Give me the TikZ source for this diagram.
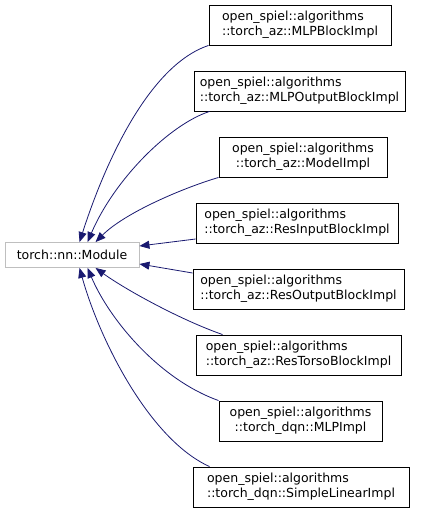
\documentclass[tikz,border=0pt]{standalone}
\usepackage{fontspec}
\setmainfont{DejaVu Sans}
\usetikzlibrary{arrows.meta}
\definecolor{edgeblue}{RGB}{25,25,112}

\begin{document}
\begin{tikzpicture}[
    x=1pt, y=-1pt,
    cls/.style={draw=black, line width=0.9pt, fill=white, minimum width=#1,
                minimum height=40pt, inner xsep=4pt, align=left,
                font=\fontsize{12.5}{14.8}\selectfont},
    base/.style={draw=black!25, line width=0.9pt, fill=white, minimum width=134pt,
                 minimum height=25pt, font=\fontsize{12.5}{14.8}\selectfont},
    inherit/.style={draw=edgeblue, line width=0.8pt,
                    {Triangle[length=10pt, width=8pt, fill=edgeblue]}-}
  ]
  \useasboundingbox (0,0) rectangle (423,509);

  \node[base] (module) at (72,255) {torch::nn::Module};

  \node[cls=182pt] (mlpblock) at (300,25)
    {open\_spiel::algorithms\\::torch\_az::MLPBlockImpl};
  \node[cls=211pt] (mlpoutput) at (299.5,91)
    {open\_spiel::algorithms\\::torch\_az::MLPOutputBlockImpl};
  \node[cls=168pt, align=center] (model) at (303,157)
    {open\_spiel::algorithms\\::torch\_az::ModelImpl};
  \node[cls=202pt] (resinput) at (297,223)
    {open\_spiel::algorithms\\::torch\_az::ResInputBlockImpl};
  \node[cls=211pt] (resoutput) at (298.5,289)
    {open\_spiel::algorithms\\::torch\_az::ResOutputBlockImpl};
  \node[cls=205pt] (restorso) at (298.5,355)
    {open\_spiel::algorithms\\::torch\_az::ResTorsoBlockImpl};
  \node[cls=163pt, align=center] (mlp) at (300.5,421)
    {open\_spiel::algorithms\\::torch\_dqn::MLPImpl};
  \node[cls=216pt] (simplelinear) at (301,487)
    {open\_spiel::algorithms\\::torch\_dqn::SimpleLinearImpl};

  \draw[inherit] ([xshift=75pt]module.north west)
    .. controls +(25,-78) and +(-60,20) .. (mlpblock.south west);
  \draw[inherit] ([xshift=83pt]module.north west)
    .. controls +(27,-63) and +(-40,13) .. ([xshift=16pt]mlpoutput.south west);
  \draw[inherit] ([xshift=91pt]module.north west)
    .. controls +(29,-29) and +(-37,11) .. (model.south west);
  \draw[inherit] ([yshift=9pt]module.east) -- ([yshift=-16pt]resinput.west);
  \draw[inherit] ([yshift=-9pt]module.east) -- ([yshift=16pt]resoutput.west);
  \draw[inherit] ([xshift=91pt]module.south west)
    .. controls +(29,21) and +(-43,-15) .. ([xshift=27pt]restorso.north west);
  \draw[inherit] ([xshift=83pt]module.south west)
    .. controls +(22,52) and +(-59,-21) .. (mlp.north west);
  \draw[inherit] ([xshift=75pt]module.south west)
    .. controls +(20,72) and +(-60,-27) .. ([xshift=17pt]simplelinear.north west);

\end{tikzpicture}
\end{document}
